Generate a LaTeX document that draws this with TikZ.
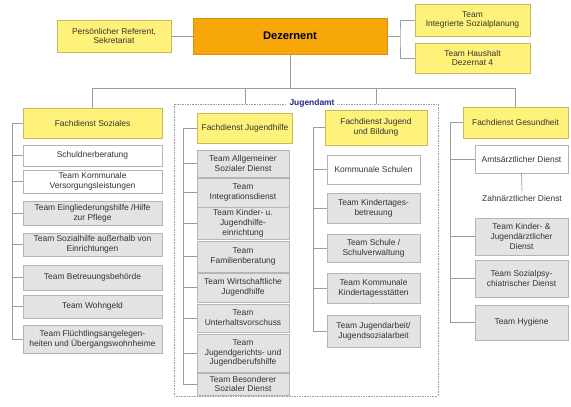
\documentclass[tikz,border=0pt]{standalone}
\usepackage{fontspec}
\setmainfont{Liberation Sans}
\usepackage{tikz}

\definecolor{fachgelb}{HTML}{FFF27A}
\definecolor{fachrand}{HTML}{C9B95C}
\definecolor{dezorange}{HTML}{F7A70A}
\definecolor{dezrand}{HTML}{D9900A}
\definecolor{teamgrau}{HTML}{E3E3E3}
\definecolor{randgrau}{HTML}{B5B5B5}
\definecolor{liniengrau}{HTML}{9C9C9C}
\definecolor{amtblau}{HTML}{23238F}

\begin{document}
\begin{tikzpicture}[x=0.03cm, y=-0.03cm,
    font=\fontsize{7.2}{8.4}\selectfont, text=black!80,
    every node/.style={align=center, inner sep=1pt},
    fach/.style={draw=fachrand, fill=fachgelb},
    team/.style={draw=randgrau, fill=teamgrau},
    plain/.style={draw=randgrau, fill=white},
    colsoz/.style={minimum width=4.17cm},
    coljh/.style={minimum width=2.76cm},
    coljb/.style={minimum width=2.79cm},
    colges/.style={minimum width=2.79cm},
    link/.style={draw=liniengrau, line width=0.6pt}]

    \useasboundingbox (0,0) rectangle (571,406);

    % top row
    \coordinate (Cpers)  at (114, 36);
    \coordinate (Cdez)   at (290, 36);
    \coordinate (Cplan)  at (472.5, 20);
    \coordinate (Chaus)  at (472.5, 58);
    \coordinate (dezR)   at (400, 36);
    \coordinate (busL)   at (92.5, 88);
    \coordinate (busR)   at (515.5, 88);

    % Fachdienst Soziales
    \coordinate (Cfds)    at (92.5, 123);
    \coordinate (Cschuld) at (92.5, 155.5);
    \coordinate (Cvers)   at (92.5, 181.5);
    \coordinate (Ceingl)  at (92.5, 213);
    \coordinate (Csozh)   at (92.5, 244.5);
    \coordinate (Cbetr)   at (92.5, 277.5);
    \coordinate (Cwohn)   at (92.5, 306.5);
    \coordinate (Cflue)   at (92.5, 339);
    \coordinate (sozL)    at (12, 123);

    % Jugendamt
    \coordinate (Camt)    at (306, 250);
    \coordinate (Clbl)    at (312, 103);

    \coordinate (Cfdjh)   at (245, 128);
    \coordinate (Casd)    at (243, 163.5);
    \coordinate (Cinteg)  at (243, 192.5);
    \coordinate (Ckjhe)   at (243, 223);
    \coordinate (Cfam)    at (243, 256.5);
    \coordinate (Cwijh)   at (243, 287.5);
    \coordinate (Cuvs)    at (243, 318);
    \coordinate (Cjgh)    at (243, 353);
    \coordinate (Cbsd)    at (243, 384);
    \coordinate (jhL)     at (183, 128);

    \coordinate (Cfdjb)    at (376, 127.5);
    \coordinate (Ckschul)  at (373.5, 169.5);
    \coordinate (Ckita)    at (373.5, 208);
    \coordinate (Cschule)  at (373.5, 248);
    \coordinate (Ckommkita) at (373.5, 288);
    \coordinate (Cjugarb)  at (373.5, 331);
    \coordinate (jbL)      at (313, 127.5);

    % Fachdienst Gesundheit
    \coordinate (Cfdg)    at (515.5, 122.5);
    \coordinate (Camts)   at (521.5, 159);
    \coordinate (Czahn)   at (522, 198);
    \coordinate (Ckjad)   at (521.5, 236.5);
    \coordinate (Cspd)    at (521.5, 278.5);
    \coordinate (Chyg)    at (521.5, 322.5);
    \coordinate (gesL)    at (450, 122.5);

    \node[fach, minimum width=3.42cm, minimum height=0.96cm] (pers) at (Cpers) {Persönlicher Referent,\\Sekretariat};
    \node[draw=dezrand, fill=dezorange, minimum width=5.82cm, minimum height=1.08cm,
          font=\fontsize{9.5}{11}\bfseries\selectfont, text=black] (dez) at (Cdez) {Dezernent};
    \node[fach, minimum width=3.45cm, minimum height=0.96cm] (plan) at (Cplan) {Team\\Integrierte Sozialplanung};
    \node[fach, minimum width=3.45cm, minimum height=0.90cm] (haus) at (Chaus) {Team Haushalt\\Dezernat 4};

    \node[fach, colsoz, minimum height=0.90cm] (fds)    at (Cfds)    {Fachdienst Soziales};
    \node[plain, colsoz, minimum height=0.63cm] (schuld) at (Cschuld) {Schuldnerberatung};
    \node[plain, colsoz, minimum height=0.69cm] (vers)   at (Cvers)   {Team Kommunale\\Versorgungsleistungen};
    \node[team, colsoz, minimum height=0.72cm] (eingl)  at (Ceingl)  {Team Eingliederungshilfe /Hilfe\\zur Pflege};
    \node[team, colsoz, minimum height=0.69cm] (sozh)   at (Csozh)   {Team Sozialhilfe außerhalb von\\Einrichtungen};
    \node[team, colsoz, minimum height=0.75cm] (betr)   at (Cbetr)   {Team Betreuungsbehörde};
    \node[team, colsoz, minimum height=0.69cm] (wohn)   at (Cwohn)   {Team Wohngeld};
    \node[team, colsoz, minimum height=0.84cm] (flue)   at (Cflue)   {Team Flüchtlingsangelegen-\\heiten und Übergangswohnheime};

    \node[draw=liniengrau, densely dotted, minimum width=7.92cm, minimum height=8.76cm] (amt) at (Camt) {};

    \node[fach, minimum width=2.85cm, minimum height=0.90cm] (fdjh) at (Cfdjh) {Fachdienst Jugendhilfe};
    \node[team, coljh, minimum height=0.81cm] (asd)   at (Casd)   {Team Allgemeiner\\Sozialer Dienst};
    \node[team, coljh, minimum height=0.87cm] (integ) at (Cinteg) {Team\\Integrationsdienst};
    \node[team, coljh, minimum height=0.96cm] (kjhe)  at (Ckjhe)  {Team Kinder- u.\\Jugendhilfe-\\einrichtung};
    \node[team, coljh, minimum height=0.93cm] (fam)   at (Cfam)   {Team\\Familienberatung};
    \node[team, coljh, minimum height=0.87cm] (wijh)  at (Cwijh)  {Team Wirtschaftliche\\Jugendhilfe};
    \node[team, coljh, minimum height=0.84cm] (uvs)   at (Cuvs)   {Team\\Unterhaltsvorschuss};
    \node[team, coljh, minimum height=1.14cm] (jgh)   at (Cjgh)   {Team\\Jugendgerichts- und\\Jugendberufshilfe};
    \node[team, coljh, minimum height=0.66cm] (bsd)   at (Cbsd)   {Team Besonderer\\Sozialer Dienst};

    \node[fach, minimum width=3.06cm, minimum height=1.05cm] (fdjb) at (Cfdjb) {Fachdienst Jugend\\und Bildung};
    \node[plain, coljb, minimum height=0.87cm] (kschul)  at (Ckschul)   {Kommunale Schulen};
    \node[team, coljb, minimum height=0.90cm] (kita)     at (Ckita)     {Team Kindertages-\\betreuung};
    \node[team, coljb, minimum height=0.84cm] (schule)   at (Cschule)   {Team Schule /\\Schulverwaltung};
    \node[team, coljb, minimum height=0.90cm] (kommkita) at (Ckommkita) {Team Kommunale\\Kindertagesstätten};
    \node[team, coljb, minimum height=0.96cm] (jugarb)   at (Cjugarb)   {Team Jugendarbeit/\\Jugendsozialarbeit};

    \node[fach, minimum width=3.15cm, minimum height=0.93cm] (fdg) at (Cfdg) {Fachdienst Gesundheit};
    \node[plain, colges, minimum height=0.84cm] (amts) at (Camts) {Amtsärztlicher Dienst};
    \node[inner sep=3pt] (zahn) at (Czahn) {Zahnärztlicher Dienst};
    \node[team, colges, minimum height=1.11cm] (kjad) at (Ckjad) {Team Kinder- \&\\Jugendärztlicher\\Dienst};
    \node[team, colges, minimum height=1.11cm] (spd)  at (Cspd)  {Team Sozialpsy-\\chiatrischer Dienst};
    \node[team, colges, minimum height=1.05cm] (hyg)  at (Chyg)  {Team Hygiene};

    \node[fill=white, inner sep=2pt, text=amtblau, font=\fontsize{7.2}{8.4}\bfseries\selectfont] (lbl) at (Clbl) {Jugendamt};

    % top
    \draw [link] (pers) -- (dez);
    \draw [link] (dez) -- (dezR);
    \draw [link] (plan.west) -| (dezR) |- (haus.west);
    \draw [link] (dez.south) -- (dez.south |- busL);
    \draw [link] (fds.north) -- (busL) -- (busR) -- (fdg.north);
    \draw [link] (fdjh.north |- busL) -- (fdjh.north |- amt.north);
    \draw [link] (fdjb.north |- busL) -- (fdjb.north |- amt.north);

    % Soziales
    \draw [link] (fds.west) -- (sozL) |- (flue.west);
    \draw [link] (schuld.west) -- (schuld.west -| sozL);
    \draw [link] (vers.west)   -- (vers.west -| sozL);
    \draw [link] (eingl.west)  -- (eingl.west -| sozL);
    \draw [link] (sozh.west)   -- (sozh.west -| sozL);
    \draw [link] (betr.west)   -- (betr.west -| sozL);
    \draw [link] (wohn.west)   -- (wohn.west -| sozL);

    % Jugendhilfe
    \draw [link] (fdjh.west) -- (jhL) |- (bsd.west);
    \draw [link] (asd.west)   -- (asd.west -| jhL);
    \draw [link] (integ.west) -- (integ.west -| jhL);
    \draw [link] (kjhe.west)  -- (kjhe.west -| jhL);
    \draw [link] (fam.west)   -- (fam.west -| jhL);
    \draw [link] (wijh.west)  -- (wijh.west -| jhL);
    \draw [link] (uvs.west)   -- (uvs.west -| jhL);
    \draw [link] (jgh.west)   -- (jgh.west -| jhL);

    % Jugend und Bildung
    \draw [link] (fdjb.west) -- (jbL) |- (jugarb.west);
    \draw [link] (kschul.west)   -- (kschul.west -| jbL);
    \draw [link] (kita.west)     -- (kita.west -| jbL);
    \draw [link] (schule.west)   -- (schule.west -| jbL);
    \draw [link] (kommkita.west) -- (kommkita.west -| jbL);

    % Gesundheit
    \draw [link] (fdg.west) -- (gesL) |- (hyg.west);
    \draw [link] (amts.west) -- (amts.west -| gesL);
    \draw [link] (kjad.west) -- (kjad.west -| gesL);
    \draw [link] (spd.west)  -- (spd.west -| gesL);
    \draw [link] (amts.south) -- (zahn.north);

\end{tikzpicture}
\end{document}
